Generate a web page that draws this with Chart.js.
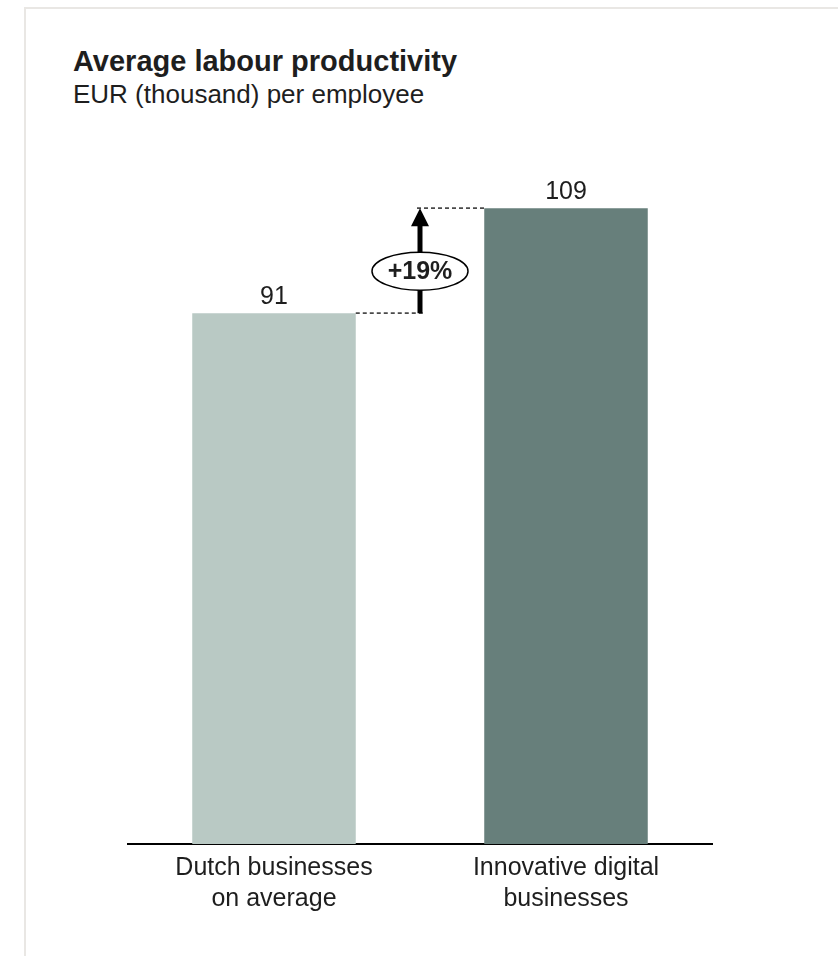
<!DOCTYPE html>
<html>
<head>
<meta charset="utf-8">
<script src="https://cdn.jsdelivr.net/npm/chart.js@4.4.1/dist/chart.umd.min.js"></script>
<style>
  html, body { margin: 0; padding: 0; background: #ffffff; }
  body { width: 838px; height: 956px; position: relative; overflow: hidden;
         font-family: "Liberation Sans", Arial, sans-serif; color: #1e1e1e; }
  #frame { position: absolute; left: 24px; top: 7px; right: -10px; bottom: -10px;
           border-top: 2px solid #e9e7e4; border-left: 2px solid #e9e7e4; }
  #title { position: absolute; left: 73px; top: 45px; font-size: 29px; font-weight: bold;
           line-height: 32px; white-space: nowrap; }
  #subtitle { position: absolute; left: 73px; top: 79px; font-size: 26px;
              line-height: 30px; white-space: nowrap; }
  #wrap { position: absolute; left: 0; top: 0; width: 838px; height: 956px; }
</style>
</head>
<body>
<div id="frame"></div>
<div id="title">Average labour productivity</div>
<div id="subtitle">EUR (thousand) per employee</div>
<div id="wrap"><canvas id="chart" width="838" height="956"></canvas></div>
<script>
// Categories and values
const categories = [
  ['Dutch businesses', 'on average'],
  ['Innovative digital', 'businesses']
];
const productivity = [91, 109];
const changeLabel = '+19%';

const barColors = ['#b9c9c4', '#677f7b'];
const textColor = '#1e1e1e';
const fontFamily = '"Liberation Sans", Arial, sans-serif';

// Value labels above bars, dashed guides, arrow and the ellipse with the change
const annotations = {
  id: 'annotations',
  afterDatasetsDraw(chart) {
    const ctx = chart.ctx;
    const meta = chart.getDatasetMeta(0);
    const yScale = chart.scales.y;
    const b1 = meta.data[0], b2 = meta.data[1];

    ctx.save();
    // value labels
    ctx.fillStyle = textColor;
    ctx.font = '25px ' + fontFamily;
    ctx.textAlign = 'center';
    ctx.textBaseline = 'alphabetic';
    meta.data.forEach((bar, i) => {
      ctx.fillText(String(productivity[i]), bar.x, bar.y - 9);
    });

    const r1 = b1.x + b1.width / 2;
    const l2 = b2.x - b2.width / 2;
    const ax = (r1 + l2) / 2;
    const yLow = yScale.getPixelForValue(productivity[0]);
    const yHigh = yScale.getPixelForValue(productivity[1]);

    // dashed guides
    ctx.strokeStyle = '#4a4a4a';
    ctx.lineWidth = 1.8;
    ctx.setLineDash([4, 3]);
    ctx.beginPath();
    ctx.moveTo(r1, yLow); ctx.lineTo(ax + 3, yLow);
    ctx.moveTo(ax - 3, yHigh); ctx.lineTo(l2, yHigh);
    ctx.stroke();
    ctx.setLineDash([]);

    // arrow
    const headLen = 18, headHalf = 9;
    ctx.strokeStyle = '#000000';
    ctx.fillStyle = '#000000';
    ctx.lineWidth = 5;
    ctx.beginPath();
    ctx.moveTo(ax, yLow);
    ctx.lineTo(ax, yHigh + headLen - 1);
    ctx.stroke();
    ctx.beginPath();
    ctx.moveTo(ax, yHigh);
    ctx.lineTo(ax - headHalf, yHigh + headLen);
    ctx.lineTo(ax + headHalf, yHigh + headLen);
    ctx.closePath();
    ctx.fill();

    // ellipse with change label
    const ey = yScale.getPixelForValue(productivity[0] + 0.4 * (productivity[1] - productivity[0]));
    ctx.beginPath();
    ctx.ellipse(ax, ey, 48, 19, 0, 0, Math.PI * 2);
    ctx.fillStyle = '#ffffff';
    ctx.fill();
    ctx.lineWidth = 1.5;
    ctx.strokeStyle = '#000000';
    ctx.stroke();
    ctx.fillStyle = textColor;
    ctx.font = 'bold 25px ' + fontFamily;
    ctx.textAlign = 'center';
    ctx.textBaseline = 'middle';
    ctx.fillText(changeLabel, ax, ey + 1);
    ctx.restore();
  }
};

new Chart(document.getElementById('chart'), {
  type: 'bar',
  data: {
    labels: categories,
    datasets: [{
      data: productivity,
      backgroundColor: barColors,
      borderWidth: 0,
      barPercentage: 0.56,
      categoryPercentage: 1.0
    }]
  },
  options: {
    responsive: false,
    animation: false,
    layout: { padding: { left: 128, right: 126, top: 144, bottom: 32 } },
    plugins: {
      legend: { display: false },
      tooltip: { enabled: false },
      title: { display: false }
    },
    scales: {
      x: {
        grid: { display: false, drawTicks: false },
        border: { display: true, color: '#000000', width: 2 },
        ticks: {
          color: textColor,
          padding: 9,
          font: { family: fontFamily, size: 25, lineHeight: 1.24 },
          maxRotation: 0,
          autoSkip: false
        }
      },
      y: {
        display: false,
        min: 0,
        max: 120
      }
    }
  },
  plugins: [annotations]
});
</script>
</body>
</html>
